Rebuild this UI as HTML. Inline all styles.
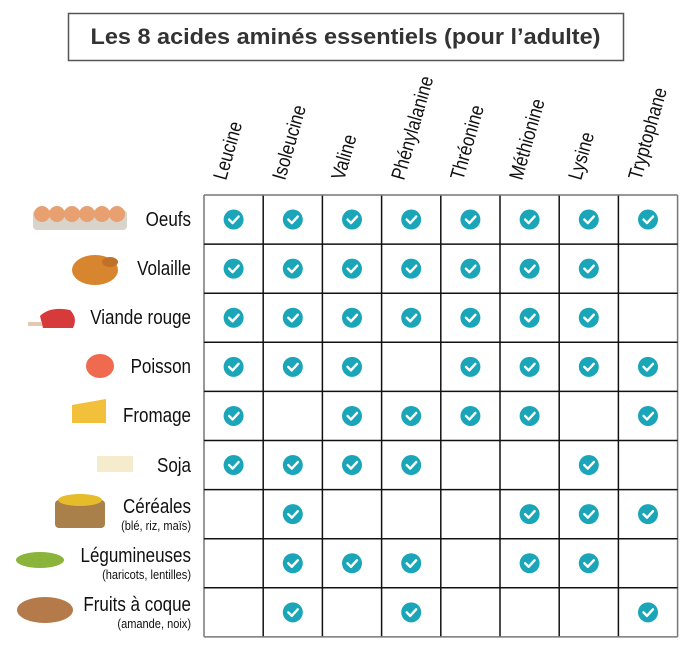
<!DOCTYPE html>
<html><head><meta charset="utf-8"><style>
html,body{margin:0;padding:0;background:#fff;}
svg{display:block;font-family:"Liberation Sans",sans-serif;}
</style></head><body>
<svg id="s" width="692" height="645" viewBox="0 0 692 645" xmlns="http://www.w3.org/2000/svg">
<rect x="68.5" y="13.5" width="555" height="47" fill="#fff" stroke="#555" stroke-width="1.5"/>
<text x="345.5" y="44" text-anchor="middle" font-size="22" font-weight="bold" fill="#333" textLength="510" lengthAdjust="spacingAndGlyphs">Les 8 acides aminés essentiels (pour l’adulte)</text>
<g font-size="20" fill="#111">
<text transform="translate(226,181) rotate(-74) scale(0.85,1)">Leucine</text>
<text transform="translate(285,181) rotate(-74) scale(0.85,1)">Isoleucine</text>
<text transform="translate(344,181) rotate(-74) scale(0.85,1)">Valine</text>
<text transform="translate(404,181) rotate(-74) scale(0.85,1)">Phénylalanine</text>
<text transform="translate(463,181) rotate(-74) scale(0.85,1)">Thréonine</text>
<text transform="translate(522,181) rotate(-74) scale(0.85,1)">Méthionine</text>
<text transform="translate(581,181) rotate(-74) scale(0.85,1)">Lysine</text>
<text transform="translate(641,181) rotate(-74) scale(0.85,1)">Tryptophane</text>
</g>
<g font-size="20" fill="#111" text-anchor="end">
<text transform="translate(191,226) scale(0.85,1)">Oeufs</text>
<text transform="translate(191,275) scale(0.85,1)">Volaille</text>
<text transform="translate(191,324) scale(0.85,1)">Viande rouge</text>
<text transform="translate(191,373) scale(0.85,1)">Poisson</text>
<text transform="translate(191,422) scale(0.85,1)">Fromage</text>
<text transform="translate(191,472) scale(0.85,1)">Soja</text>
<text transform="translate(191,513) scale(0.85,1)">Céréales</text>
<text transform="translate(191,562) scale(0.85,1)">Légumineuses</text>
<text transform="translate(191,611) scale(0.85,1)">Fruits à coque</text>
</g>
<g font-size="13" fill="#111" text-anchor="end">
<text transform="translate(191,530) scale(0.85,1)">(blé, riz, maïs)</text>
<text transform="translate(191,579) scale(0.85,1)">(haricots, lentilles)</text>
<text transform="translate(191,628) scale(0.85,1)">(amande, noix)</text>
</g>
<g>
<rect x="33" y="210" width="94" height="20" rx="4" fill="#d8d4cc"/>
<g fill="#e8a070"><ellipse cx="42" cy="214" rx="8" ry="8"/><ellipse cx="57" cy="214" rx="8" ry="8"/><ellipse cx="72" cy="214" rx="8" ry="8"/><ellipse cx="87" cy="214" rx="8" ry="8"/><ellipse cx="102" cy="214" rx="8" ry="8"/><ellipse cx="117" cy="214" rx="8" ry="8"/></g>
<ellipse cx="95" cy="270" rx="23" ry="15" fill="#d7862f"/><ellipse cx="110" cy="262" rx="8" ry="5" fill="#c07028"/>
<path d="M40 316 q10 -10 30 -6 q8 8 3 18 l-30 0 z" fill="#d63a3a"/><rect x="28" y="322" width="14" height="4" fill="#e4c9b0"/>
<ellipse cx="100" cy="366" rx="14" ry="12" fill="#ef6a4f"/>
<path d="M72 405 l34 -6 l0 24 l-34 0 z" fill="#f3c03c"/>
<rect x="97" y="456" width="36" height="16" fill="#f4eccd"/>
<rect x="55" y="500" width="50" height="28" rx="4" fill="#a9804a"/><ellipse cx="80" cy="500" rx="22" ry="6" fill="#e6bc2a"/>
<ellipse cx="40" cy="560" rx="24" ry="8" fill="#8ab43a"/>
<ellipse cx="45" cy="610" rx="28" ry="13" fill="#b57a4a"/>
</g>
<g id="grid" stroke="#111" stroke-width="1.5" fill="none"></g>
<g id="checks"></g>
</svg>
<script>
var ns="http://www.w3.org/2000/svg",x0=204,y0=195,cw=59.2,rh=49.1;
var g=document.getElementById("grid"),c=document.getElementById("checks");
function el(t,a,p){var e=document.createElementNS(ns,t);for(var k in a)e.setAttribute(k,a[k]);p.appendChild(e);return e;}
for(var i=0;i<=8;i++){var x=x0+cw*i;el("line",{x1:x,y1:y0,x2:x,y2:y0+rh*9,stroke:(i==0||i==8)?"#777":"#111"},g);}
for(var j=0;j<=9;j++){var y=y0+rh*j;el("line",{x1:x0,y1:y,x2:x0+cw*8,y2:y,stroke:(j==0||j==9)?"#777":"#111"},g);}
var d=[[1,2,3,4,5,6,7,8],[1,2,3,4,5,6,7],[1,2,3,4,5,6,7],[1,2,3,5,6,7,8],[1,3,4,5,6,8],[1,2,3,4,7],[2,6,7,8],[2,3,4,6,7],[2,4,8]];
d.forEach(function(r,ri){r.forEach(function(ci){var cx=x0+cw*(ci-0.5),cy=y0+rh*(ri+0.5);
el("circle",{cx:cx,cy:cy,r:10,fill:"#1aa6b8"},c);
el("polyline",{points:(cx-4.5)+","+(cy)+" "+(cx-1)+","+(cy+3.5)+" "+(cx+5)+","+(cy-3),fill:"none",stroke:"#fff","stroke-width":2.4,"stroke-linecap":"round","stroke-linejoin":"round"},c);});});
</script>
</body></html>
